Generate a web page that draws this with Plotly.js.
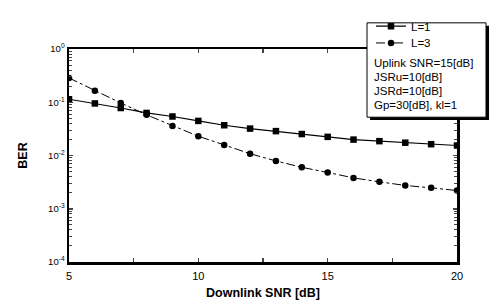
<!DOCTYPE html>
<html><head><meta charset="utf-8">
<script src="https://cdn.plot.ly/plotly-3.0.1.min.js"></script>
<style>html,body{margin:0;padding:0;background:#fff}#chart{width:495px;height:303px}</style>
</head><body><div id="chart"></div>
<script>
const snr = [5,6,7,8,9,10,11,12,13,14,15,16,17,18,19,20];
const berL1 = [0.114,0.095,0.078,0.063,0.054,0.0446,0.037,0.032,0.0287,0.0253,0.0224,0.0199,0.0186,0.0174,0.0163,0.0154];
const berL3 = [0.286,0.164,0.097,0.058,0.036,0.023,0.0158,0.0108,0.0079,0.0060,0.0048,0.0038,0.0032,0.00274,0.00247,0.0022];
const seriesNames = ['L=1','L=3'];
const infoLines = ['Uplink SNR=15[dB]','JSRu=10[dB]','JSRd=10[dB]','Gp=30[dB], kl=1'];
const yTickVals = [1e-4,1e-3,1e-2,1e-1,1];
const yTickText = ['10<sup>-4</sup>','10<sup>-3</sup>','10<sup>-2</sup>','10<sup>-1</sup>','10<sup>0</sup>'];

const FONT = 'Liberation Sans, Arial, sans-serif';
const L=69, R=457, T=34, B=262;
const px = x => (x - L)/(R - L);
const py = y => (B - y)/(B - T);

const traces = [
  {x: snr, y: berL1, name: seriesNames[0], mode:'lines+markers', legend:'legend',
   line:{color:'#000', width:1.2, dash:'solid'}, marker:{symbol:'square', size:6.5, color:'#000'}},
  {x: snr, y: berL3, name: seriesNames[1], mode:'lines+markers', legend:'legend2',
   line:{color:'#000', width:1, dash:'dashdot'}, marker:{symbol:'circle', size:6.5, color:'#000'}}
];

const annotations = infoLines.map((t,i)=>({
  xref:'paper', yref:'paper', x: px(372), y: py(48.5 + i*15.2), xanchor:'left', yanchor:'middle',
  text: t, showarrow:false, font:{family:FONT, size:11.5, color:'#000'}
}));

const legendBase = {xanchor:'left', yanchor:'top', bgcolor:'rgba(0,0,0,0)', borderwidth:0,
    font:{size:11.5, family:FONT, color:'#000'}, itemwidth:30};

const layout = {
  width:495, height:303,
  margin:{l:L, r:495-R, t:T, b:303-B},
  paper_bgcolor:'#fff', plot_bgcolor:'#fff',
  font:{family:FONT, color:'#000'},
  xaxis:{range:[5,20], tickmode:'linear', tick0:5, dtick:5, ticks:'inside', ticklen:4, tickwidth:1.5,
    minor:{dtick:2.5, ticks:'inside', ticklen:4, tickwidth:1.5},
    showline:true, linecolor:'#000', linewidth:2.5, mirror:'ticks', showgrid:false, zeroline:false,
    tickfont:{size:11, family:FONT}, ticklabelstandoff:2,
    title:{text:'Downlink SNR [dB]', font:{size:12.5, family:FONT, weight:'bold'}, standoff:8}},
  yaxis:{type:'log', range:[-4,0], tickmode:'array', tickvals:yTickVals, ticktext:yTickText,
    ticks:'inside', ticklen:4, tickwidth:1.5,
    minor:{dtick:'D1', ticks:'inside', ticklen:3, tickwidth:1},
    showline:true, linecolor:'#000', linewidth:2.5, mirror:'ticks', showgrid:false, zeroline:false,
    tickfont:{size:9.5, family:FONT},
    title:{text:'BER', font:{size:12.5, family:FONT, weight:'bold'}, standoff:18}},
  showlegend:true,
  legend:Object.assign({x:px(371), y:py(-6)}, legendBase),
  legend2:Object.assign({x:px(371), y:py(12)}, legendBase),
  shapes:[
    {type:'rect', xref:'paper', yref:'paper', x0:px(370), x1:px(489), y0:py(9), y1:py(110),
     fillcolor:'#000', line:{width:0}, layer:'above'},
    {type:'rect', xref:'paper', yref:'paper', x0:px(367), x1:px(486), y0:py(6), y1:py(107),
     fillcolor:'#fff', line:{color:'#000', width:1}, layer:'above'}
  ],
  annotations: annotations
};
Plotly.newPlot('chart', traces, layout, {staticPlot:true, displayModeBar:false});
</script></body></html>
